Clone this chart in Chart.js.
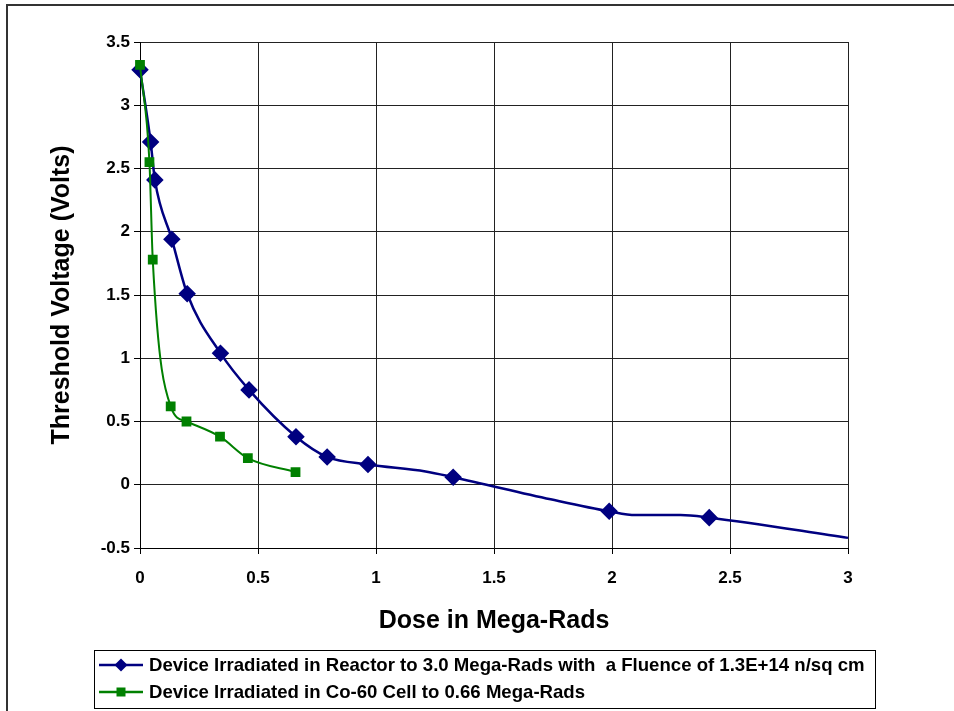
<!DOCTYPE html>
<html>
<head>
<meta charset="utf-8">
<script src="https://cdn.jsdelivr.net/npm/chart.js@4/dist/chart.umd.min.js"></script>
<style>
  html, body { margin: 0; padding: 0; background: #ffffff; }
  #c { display: block; }
</style>
</head>
<body>
<canvas id="c" width="954" height="711"></canvas>
<script>
// ---- data ----
const reactorLabel = 'Device Irradiated in Reactor to 3.0 Mega-Rads with  a Fluence of 1.3E+14 n/sq cm';
const reactorDose = [0, 0.045, 0.063, 0.135, 0.2, 0.341, 0.462, 0.661, 0.793, 0.966, 1.21, 1.327, 1.74, 1.988, 2.1, 2.29, 2.412, 3.0];
const reactorVt   = [3.28, 2.71, 2.41, 1.94, 1.51, 1.04, 0.75, 0.38, 0.22, 0.16, 0.105, 0.06, -0.115, -0.21, -0.24, -0.24, -0.26, -0.42];
const reactorMarked = [1, 1, 1, 1, 1, 1, 1, 1, 1, 1, 0, 1, 0, 1, 0, 0, 1, 0];

const cobaltLabel = 'Device Irradiated in Co-60 Cell to 0.66 Mega-Rads';
const cobaltDose = [0, 0.04, 0.054, 0.13, 0.197, 0.339, 0.457, 0.659];
const cobaltVt   = [3.32, 2.55, 1.78, 0.62, 0.50, 0.38, 0.21, 0.10];

const xTicks = [0, 0.5, 1, 1.5, 2, 2.5, 3];
const xTickLabels = ['0', '0.5', '1', '1.5', '2', '2.5', '3'];
const yTicks = [-0.5, 0, 0.5, 1, 1.5, 2, 2.5, 3, 3.5];
const yTickLabels = ['-0.5', '0', '0.5', '1', '1.5', '2', '2.5', '3', '3.5'];

const xTitle = 'Dose in Mega-Rads';
const yTitle = 'Threshold Voltage (Volts)';

// ---- styling ----
const BLUE = '#000080';
const GREEN = '#008000';
const FONT = 'Liberation Sans, Arial, sans-serif';

const toPoints = (xs, ys) => xs.map((x, i) => ({ x: x, y: ys[i] }));

const frameAndLegend = {
  id: 'frameAndLegend',
  afterDraw(chart) {
    const ctx = chart.ctx;
    ctx.save();
    // outer chart frame
    ctx.strokeStyle = '#333333';
    ctx.lineWidth = 2;
    ctx.strokeRect(7, 5, 1200, 1200);

    // legend box
    ctx.strokeStyle = '#000000';
    ctx.lineWidth = 1;
    ctx.strokeRect(94.5, 650.5, 781, 58);

    const rows = [
      { ds: chart.data.datasets[0], y: 665 },
      { ds: chart.data.datasets[1], y: 692 }
    ];
    ctx.font = 'bold 18.6px ' + FONT;
    const w0 = ctx.measureText(rows[0].ds.label).width;
    const sx = Math.min(1, 724 / w0);
    rows.forEach(r => {
      ctx.strokeStyle = r.ds.borderColor;
      ctx.lineWidth = 2.5;
      ctx.beginPath();
      ctx.moveTo(99, r.y);
      ctx.lineTo(143, r.y);
      ctx.stroke();
      ctx.fillStyle = r.ds.pointBackgroundColor;
      ctx.beginPath();
      if (r.ds.pointStyle === 'rectRot') {
        ctx.moveTo(121 - 6.5, r.y); ctx.lineTo(121, r.y - 6.5); ctx.lineTo(121 + 6.5, r.y); ctx.lineTo(121, r.y + 6.5);
      } else {
        ctx.rect(121 - 4.5, r.y - 4.5, 9, 9);
      }
      ctx.closePath();
      ctx.fill();
      ctx.fillStyle = '#000000';
      ctx.textBaseline = 'middle';
      ctx.textAlign = 'left';
      ctx.save();
      ctx.translate(149, r.y + 1);
      ctx.scale(sx, 1);
      ctx.fillText(r.ds.label, 0, 0);
      ctx.restore();
    });
    ctx.restore();
  }
};

new Chart(document.getElementById('c'), {
  type: 'line',
  data: {
    datasets: [
      {
        label: reactorLabel,
        data: toPoints(reactorDose, reactorVt),
        borderColor: BLUE,
        backgroundColor: BLUE,
        pointBackgroundColor: BLUE,
        pointBorderColor: BLUE,
        borderWidth: 2.5,
        pointStyle: 'rectRot',
        pointRadius: reactorMarked.map(m => m ? 7 : 0),
        pointHoverRadius: reactorMarked.map(m => m ? 7 : 0),
        cubicInterpolationMode: 'monotone',
        fill: false,
        clip: false,
        order: 1
      },
      {
        label: cobaltLabel,
        data: toPoints(cobaltDose, cobaltVt),
        borderColor: GREEN,
        backgroundColor: GREEN,
        pointBackgroundColor: GREEN,
        pointBorderColor: GREEN,
        borderWidth: 2,
        pointStyle: 'rect',
        pointRadius: 5.5,
        pointHoverRadius: 5.5,
        cubicInterpolationMode: 'monotone',
        fill: false,
        clip: false,
        order: 0
      }
    ]
  },
  options: {
    responsive: false,
    animation: false,
    events: [],
    layout: { padding: { top: 42, right: 106, left: 0, bottom: 0 } },
    plugins: {
      legend: { display: false },
      tooltip: { enabled: false }
    },
    scales: {
      x: {
        type: 'linear',
        min: 0, max: 3,
        afterBuildTicks: s => { s.ticks = xTicks.map(v => ({ value: v })); },
        afterFit: s => { s.height = 163; },
        ticks: {
          callback: (v) => xTickLabels[xTicks.indexOf(v)],
          font: { family: FONT, size: 17, weight: 'bold' },
          color: '#000000',
          padding: 14,
          maxRotation: 0
        },
        grid: { color: '#222222', lineWidth: 1, tickLength: 6, drawTicks: true, tickColor: '#000000' },
        border: { color: '#000000', width: 1 },
        title: {
          display: true, text: xTitle, color: '#000000',
          font: { family: FONT, size: 25, weight: 'bold' },
          padding: { top: 0, bottom: 75 }
        }
      },
      y: {
        type: 'linear',
        min: -0.5, max: 3.5,
        afterBuildTicks: s => { s.ticks = yTicks.map(v => ({ value: v })); },
        afterFit: s => { s.width = 140; },
        ticks: {
          callback: (v) => yTickLabels[yTicks.indexOf(v)],
          font: { family: FONT, size: 17, weight: 'bold' },
          color: '#000000',
          padding: 4
        },
        grid: { color: '#222222', lineWidth: 1, tickLength: 6, drawTicks: true, tickColor: '#000000' },
        border: { color: '#000000', width: 1 },
        title: {
          display: true, text: yTitle, color: '#000000',
          font: { family: FONT, size: 25, weight: 'bold' },
          padding: { top: 47, bottom: 0 }
        }
      }
    }
  },
  plugins: [frameAndLegend]
});
</script>
</body>
</html>
